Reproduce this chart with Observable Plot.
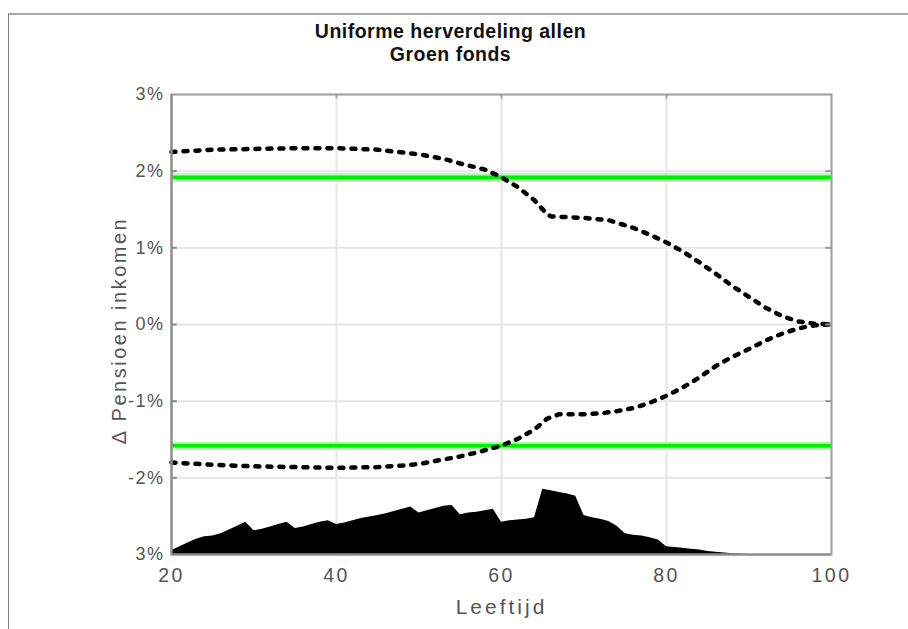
<!DOCTYPE html>
<html><head><meta charset="utf-8">
<script src="https://cdn.jsdelivr.net/npm/d3@7"></script>
<script src="https://cdn.jsdelivr.net/npm/@observablehq/plot@0.6"></script>
<style>
body{margin:0;background:#fff;}
#wrap{position:relative;width:908px;height:629px;overflow:hidden;background:#fff;}
#frame{position:absolute;left:8px;top:13px;width:900px;height:620px;border-top:2px solid #a8a8a8;border-left:1px solid #808080;}
#chart{position:absolute;left:0;top:0;}
</style></head><body>
<div id="wrap"><div id="frame"></div><div id="chart"></div></div>
<script>
const titleLines = ["Uniforme herverdeling allen", "Groen fonds"];
const xLabel = "Leeftijd";
const yLabel = "Δ Pensioen inkomen";
const xTicks = [20, 40, 60, 80, 100];
const yTicks = [-3, -2, -1, 0, 1, 2, 3];
const yTickLabels = ["3%", "-2%", "-1%", "0%", "1%", "2%", "3%"];
const greenLevels = [1.92, -1.58];

const upperAges   = [20, 25, 30, 35, 40, 45, 50, 53, 55, 58, 60, 62, 64, 65.5, 66, 70, 73, 76, 78, 80, 82, 84, 86, 88, 90, 92, 94, 96, 98, 100];
const upperValues = [2.25, 2.28, 2.29, 2.30, 2.30, 2.28, 2.22, 2.16, 2.10, 2.02, 1.92, 1.79, 1.62, 1.44, 1.41, 1.39, 1.36, 1.26, 1.17, 1.07, 0.95, 0.81, 0.66, 0.50, 0.36, 0.22, 0.11, 0.04, 0.01, 0];

const lowerAges   = [20, 25, 30, 35, 40, 45, 48, 50, 53, 55, 57, 60, 62, 64, 65.5, 67, 70, 72, 74, 76, 78, 80, 82, 84, 86, 88, 90, 92, 94, 96, 98, 100];
const lowerValues = [-1.80, -1.83, -1.85, -1.86, -1.87, -1.86, -1.84, -1.82, -1.76, -1.72, -1.67, -1.58, -1.49, -1.37, -1.23, -1.17, -1.17, -1.16, -1.13, -1.09, -1.02, -0.93, -0.82, -0.69, -0.54, -0.42, -0.32, -0.21, -0.12, -0.05, -0.01, 0];

const distAges = d3.range(20, 101);
const distValues = [
  -2.95, -2.90, -2.85, -2.80, -2.77, -2.76, -2.73, -2.68, -2.63, -2.58,
  -2.69, -2.67, -2.64, -2.61, -2.58, -2.66, -2.64, -2.61, -2.58, -2.56,
  -2.61, -2.59, -2.56, -2.53, -2.51, -2.49, -2.47, -2.44, -2.41, -2.38,
  -2.46, -2.43, -2.40, -2.37, -2.36, -2.48, -2.46, -2.45, -2.43, -2.41,
  -2.58, -2.56, -2.55, -2.54, -2.52, -2.15, -2.17, -2.19, -2.21, -2.24,
  -2.49, -2.52, -2.54, -2.57, -2.63, -2.73, -2.75, -2.76, -2.78, -2.81,
  -2.90, -2.91, -2.92, -2.93, -2.94, -2.96, -2.97, -2.98, -2.99, -2.995,
  -3, -3, -3, -3, -3, -3, -3, -3, -3, -3, -3
];

const upper = upperAges.map((a, i) => ({age: a, v: upperValues[i]}));
const lower = lowerAges.map((a, i) => ({age: a, v: lowerValues[i]}));
const dist = distAges.map((a, i) => ({age: a, v: distValues[i]}));
const yMin = yTicks[0], yMax = yTicks[yTicks.length - 1];
const xMin = xTicks[0], xMax = xTicks[xTicks.length - 1];

const font = "'Liberation Sans', Arial, Helvetica, sans-serif";

const plot = Plot.plot({
  width: 908, height: 629,
  marginLeft: 171, marginRight: 77, marginTop: 94, marginBottom: 75,
  style: {fontFamily: font, background: "transparent", overflow: "visible"},
  x: {domain: [xMin, xMax]},
  y: {domain: [yMin, yMax]},
  marks: [
    Plot.gridX(xTicks, {stroke: "#e6e6e6", strokeOpacity: 1, strokeWidth: 2}),
    Plot.gridY(yTicks, {stroke: "#e6e6e6", strokeOpacity: 1, strokeWidth: 2}),
    Plot.areaY(dist, {x: "age", y1: yMin, y2: "v", fill: "black", curve: "linear"}),
    Plot.ruleY(greenLevels, {stroke: "#a8ffa8", strokeWidth: 8}),
    Plot.ruleY(greenLevels, {stroke: "#00ee00", strokeWidth: 3.5}),
    Plot.line(upper, {x: "age", y: "v", stroke: "black", strokeWidth: 4.5, strokeDasharray: "4,8", curve: "linear"}),
    Plot.line(lower, {x: "age", y: "v", stroke: "black", strokeWidth: 4.5, strokeDasharray: "4,8", curve: "linear"}),
    Plot.ruleY(yTicks.slice(1, -1), {x1: xMin, x2: xMin + 0.7, stroke: "#888", strokeWidth: 2}),
    Plot.ruleY(yTicks.slice(1, -1), {x1: xMax - 0.7, x2: xMax, stroke: "#999", strokeWidth: 2}),
    Plot.ruleX(xTicks.slice(1, -1), {y1: yMax, y2: yMax - 0.06, stroke: "#aaa", strokeWidth: 2}),
    Plot.frame({stroke: "#a0a0a0", strokeWidth: 2}),
    Plot.ruleX([xMin], {stroke: "#8c8c8c", strokeWidth: 2}),
    Plot.ruleY([yMin], {stroke: "#8c8c8c", strokeWidth: 2}),
    Plot.axisX(xTicks, {tickSize: 0, tickPadding: 14, fontSize: 19.5, fill: "#555", label: null, tickFormat: d => String(d)}),
    Plot.axisY(yTicks, {tickSize: 0, tickPadding: 7, fontSize: 18, fill: "#555", label: null, tickFormat: d => yTickLabels[yTicks.indexOf(d)]}),
    Plot.text([xLabel], {frameAnchor: "bottom", dy: 53, text: d => d, fontSize: 21, fill: "#555", lineAnchor: "middle", textAnchor: "middle"}),
    Plot.text([yLabel], {frameAnchor: "left", dx: -52, dy: 6, rotate: -90, text: d => d, fontSize: 20, fill: "#555", lineAnchor: "middle", textAnchor: "middle"}),
    Plot.text([titleLines[0]], {frameAnchor: "top", dx: -51, dy: -63, text: d => d, fontSize: 19.5, fontWeight: "bold", fill: "#111", lineAnchor: "middle", textAnchor: "middle"}),
    Plot.text([titleLines[1]], {frameAnchor: "top", dx: -51, dy: -40, text: d => d, fontSize: 19.5, fontWeight: "bold", fill: "#111", lineAnchor: "middle", textAnchor: "middle"})
  ]
});

document.getElementById("chart").appendChild(plot);
const svg = d3.select(plot);
svg.selectAll('g[aria-label="x-axis tick label"] text').style("letter-spacing", "2.5px");
svg.selectAll('g[aria-label="y-axis tick label"] text').style("letter-spacing", "1.5px");
svg.selectAll('g[aria-label="text"] text').each(function() {
  const t = this.textContent;
  if (t === xLabel) d3.select(this).style("letter-spacing", "3px");
  else if (t === yLabel) d3.select(this).style("letter-spacing", "2.5px");
  else d3.select(this).style("letter-spacing", "0.5px");
});
</script>
</body></html>
